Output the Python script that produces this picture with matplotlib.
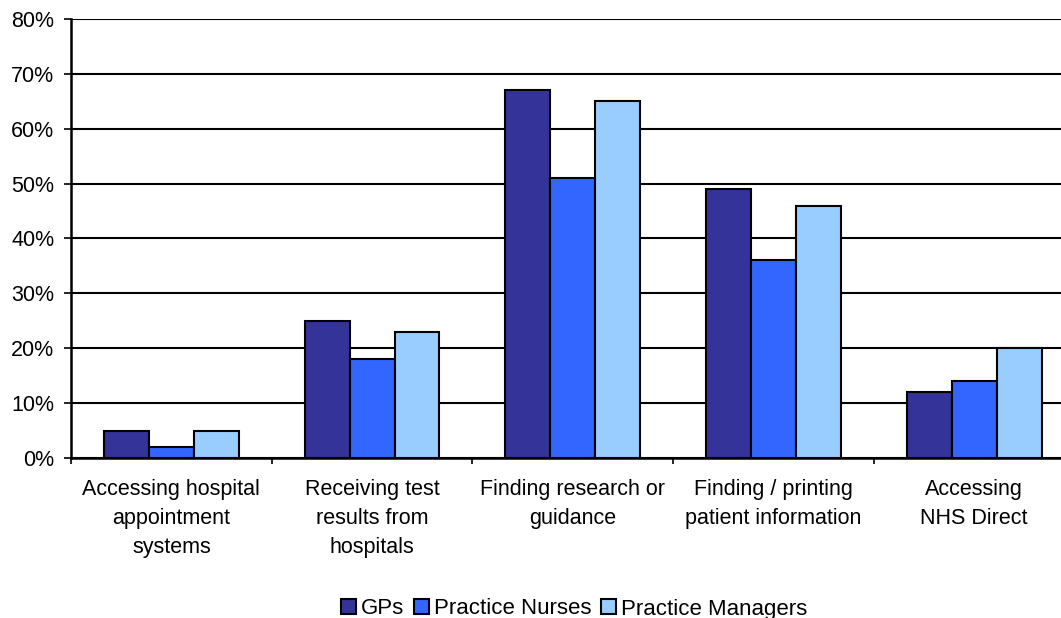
import matplotlib
matplotlib.use("Agg")
import matplotlib.pyplot as plt
import numpy as np
from matplotlib.ticker import FuncFormatter, FixedLocator

categories = ["Accessing hospital\nappointment\nsystems",
              "Receiving test\nresults from\nhospitals",
              "Finding research or\nguidance",
              "Finding / printing\npatient information",
              "Accessing\nNHS Direct"]
series_names = ["GPs", "Practice Nurses", "Practice Managers"]
gps = [5, 25, 67, 49, 12]
nurses = [2, 18, 51, 36, 14]
managers = [5, 23, 65, 46, 20]
colors = ["#333399", "#3366FF", "#99CCFF"]

plt.rcParams['font.family'] = ['Liberation Sans', 'DejaVu Sans']

fig = plt.figure(figsize=(10.61, 6.18), dpi=100)
ax = fig.add_axes([71/1061, 160/618, 1003.5/1061, 439/618])

x = np.arange(len(categories))
w = 0.224
for i, (vals, name, c) in enumerate(zip([gps, nurses, managers], series_names, colors)):
    ax.bar(x + (i - 1) * w, vals, width=w, color=c, edgecolor="black",
           linewidth=1.5, label=name, zorder=3)

ax.set_xlim(-0.5, len(categories) - 0.5)
ax.set_ylim(0, 80)
ax.set_yticks(np.arange(0, 81, 10))
ax.yaxis.set_major_formatter(FuncFormatter(lambda v, p: f"{int(v)}%"))
ax.yaxis.grid(True, color="black", linewidth=1.5, zorder=0)
ax.set_axisbelow(True)

ax.xaxis.set_major_locator(FixedLocator(np.arange(-0.5, len(categories), 1.0)))
ax.set_xticklabels([])
ax.set_xticks(x, minor=True)
ax.set_xticklabels(categories, minor=True, fontsize=15.5, linespacing=1.5)
ax.tick_params(axis="x", which="minor", length=0, pad=15)
ax.tick_params(axis="x", which="major", length=4, width=1.2, direction="out")
ax.tick_params(axis="y", length=5, width=1.2, direction="out", labelsize=15.5, pad=7)

for s in ["top", "right"]:
    ax.spines[s].set_visible(False)
ax.spines["left"].set_linewidth(1.8)
ax.spines["bottom"].set_linewidth(1.8)

leg = fig.legend(loc="center", bbox_to_anchor=(574/1061, 1 - 609/618), ncol=3,
                 frameon=False, fontsize=16, handlelength=0.68, handleheight=0.68,
                 handletextpad=0.2, columnspacing=0.45, borderpad=0)
for h in leg.legend_handles:
    h.set_linewidth(1.5)

fig.savefig("out.png", dpi=100)
